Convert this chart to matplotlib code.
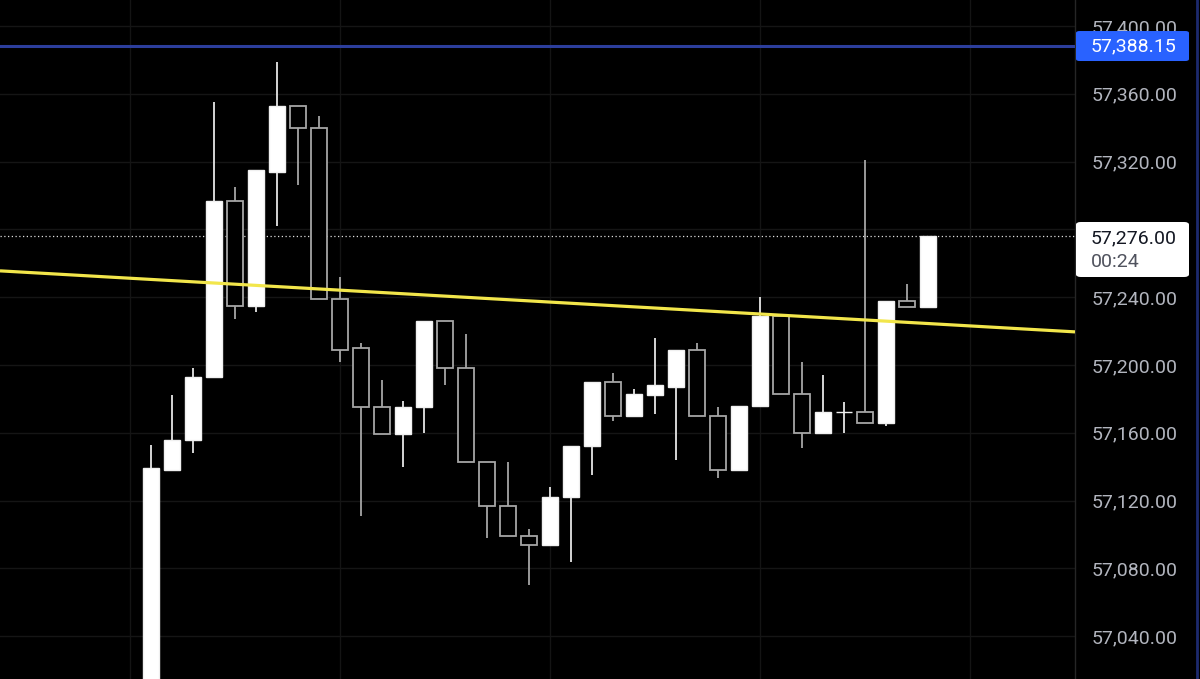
import matplotlib
matplotlib.use("Agg")
import matplotlib.pyplot as plt
from matplotlib.patches import FancyBboxPatch
from matplotlib.lines import Line2D
import numpy as np

# ---- data ----
opens  = [56990, 57138, 57156, 57193, 57297, 57235, 57314, 57353, 57340, 57239,
          57210, 57175, 57159, 57175, 57226, 57198, 57143, 57117, 57099, 57094,
          57122, 57152, 57190, 57170, 57182, 57187, 57209, 57170, 57138, 57176,
          57229, 57183, 57160, 57172, 57172, 57166, 57238, 57234]
highs  = [57153, 57182, 57198, 57355, 57305, 57315, 57379, 57353, 57347, 57252,
          57213, 57191, 57179, 57226, 57226, 57218, 57143, 57143, 57103, 57128,
          57152, 57190, 57195, 57186, 57216, 57209, 57213, 57175, 57176, 57240,
          57229, 57202, 57194, 57178, 57321, 57238, 57248, 57276]
lows   = [56980, 57138, 57148, 57193, 57227, 57231, 57282, 57306, 57239, 57202,
          57111, 57159, 57140, 57160, 57188, 57143, 57098, 57099, 57070, 57093,
          57084, 57135, 57167, 57170, 57171, 57144, 57170, 57133, 57138, 57176,
          57183, 57151, 57160, 57160, 57166, 57164, 57234, 57234]
closes = [57139, 57156, 57193, 57297, 57235, 57315, 57353, 57340, 57239, 57209,
          57175, 57159, 57175, 57226, 57198, 57143, 57117, 57099, 57094, 57122,
          57152, 57190, 57170, 57183, 57188, 57209, 57170, 57138, 57176, 57229,
          57183, 57160, 57172, 57172, 57166, 57238, 57234, 57276]

price_ticks = [57040, 57080, 57120, 57160, 57200, 57240, 57280, 57320, 57360, 57400]
blue_level = 57388.15
last_price = 57276.00
countdown = "00:24"
# trend line endpoints (bar index, price)
trend_x = [-7.19, 44.0]
trend_y = [57255.5, 57219.5]
v_grid_idx = [-1, 9, 19, 29, 39]

# ---- figure ----
W, H = 1200, 679
fig = plt.figure(figsize=(W / 100, H / 100), dpi=100, facecolor="black")
ax = fig.add_axes([0, 0, 1075 / W, 1])
ax.set_facecolor("black")

x = np.arange(len(opens))
o = np.array(opens, float); c = np.array(closes, float)
h = np.array(highs, float); l = np.array(lows, float)
bull = c >= o

ax.set_xlim(trend_x[0], trend_x[1])
ax.set_ylim(57014.7, 57415.3)

# grid
for gx in v_grid_idx:
    ax.axvline(gx, color="#141414", lw=1, zorder=0)
for py in price_ticks:
    ax.axhline(py, color="#151515", lw=1, zorder=0)

# wicks
ax.vlines(x[bull], l[bull], h[bull], color="#e6e6e6", lw=1.3, zorder=2)
ax.vlines(x[~bull], l[~bull], h[~bull], color="#a6a6a6", lw=1.3, zorder=2)

# bodies
bw = 0.76
ax.bar(x[bull], (c - o)[bull], bottom=o[bull], width=bw, color="white",
       edgecolor="#f0f0f0", linewidth=1.0, zorder=3)
ax.bar(x[~bull], (o - c)[~bull], bottom=c[~bull], width=bw, color="black",
       edgecolor="#a6a6a6", linewidth=1.3, zorder=3)

# trend line, blue level, last price dotted line
ax.plot(trend_x, trend_y, color="#f2e64b", lw=2.3, zorder=4, solid_capstyle="butt")
ax.axhline(blue_level, color="#2c3e9c", lw=2.2, zorder=4)
ax.axhline(last_price, color="#dddddd", lw=0.9, ls=(0, (1, 2)), zorder=1)

# axes styling
for s in ["top", "left", "bottom"]:
    ax.spines[s].set_visible(False)
ax.spines["right"].set_color("#262626")
ax.spines["right"].set_linewidth(1)
ax.set_xticks([])
ax.yaxis.tick_right()
ax.set_yticks(price_ticks)
ax.set_yticklabels([f"{p:,.2f}" for p in price_ticks])
ax.tick_params(axis="y", length=0, pad=12, labelsize=14, labelcolor="#b2b5be")
for t in ax.get_yticklabels():
    t.set_fontfamily(["Roboto", "DejaVu Sans"])

# ---- price labels on the scale ----
def ytofig(p):
    y0, y1 = ax.get_ylim()
    return (p - y0) / (y1 - y0)

bx0 = 1076 / W
bwid = 113 / W
# blue label
yb = ytofig(blue_level)
bh = 30 / H
fig.patches.append(FancyBboxPatch((bx0, yb - bh / 2), bwid, bh,
                                  boxstyle="round,pad=0,rounding_size=0.003",
                                  transform=fig.transFigure, facecolor="#2962ff",
                                  edgecolor="none", zorder=5))
fig.text(1091 / W, yb, f"{blue_level:,.2f}", color="white", fontsize=14,
         family=["Roboto", "DejaVu Sans"], va="center", ha="left", zorder=6)

# white last price label
top = 1 - 222 / H
bot = 1 - 277 / H
fig.patches.append(FancyBboxPatch((bx0, bot), bwid, top - bot,
                                  boxstyle="round,pad=0,rounding_size=0.004",
                                  transform=fig.transFigure, facecolor="white",
                                  edgecolor="none", zorder=5))
fig.text(1091 / W, 1 - 238 / H, f"{last_price:,.2f}", color="#131722", fontsize=14,
         family=["Roboto", "DejaVu Sans"], va="center", ha="left", zorder=6)
fig.text(1091 / W, 1 - 262 / H, countdown, color="#50535e", fontsize=14,
         family=["Roboto", "DejaVu Sans"], va="center", ha="left", zorder=6)

# right frame line
fig.add_artist(Line2D([1197 / W, 1197 / W], [0, 1], transform=fig.transFigure,
                      color="#1d2a6e", lw=2))

fig.savefig("out.png", dpi=100, facecolor="black")
